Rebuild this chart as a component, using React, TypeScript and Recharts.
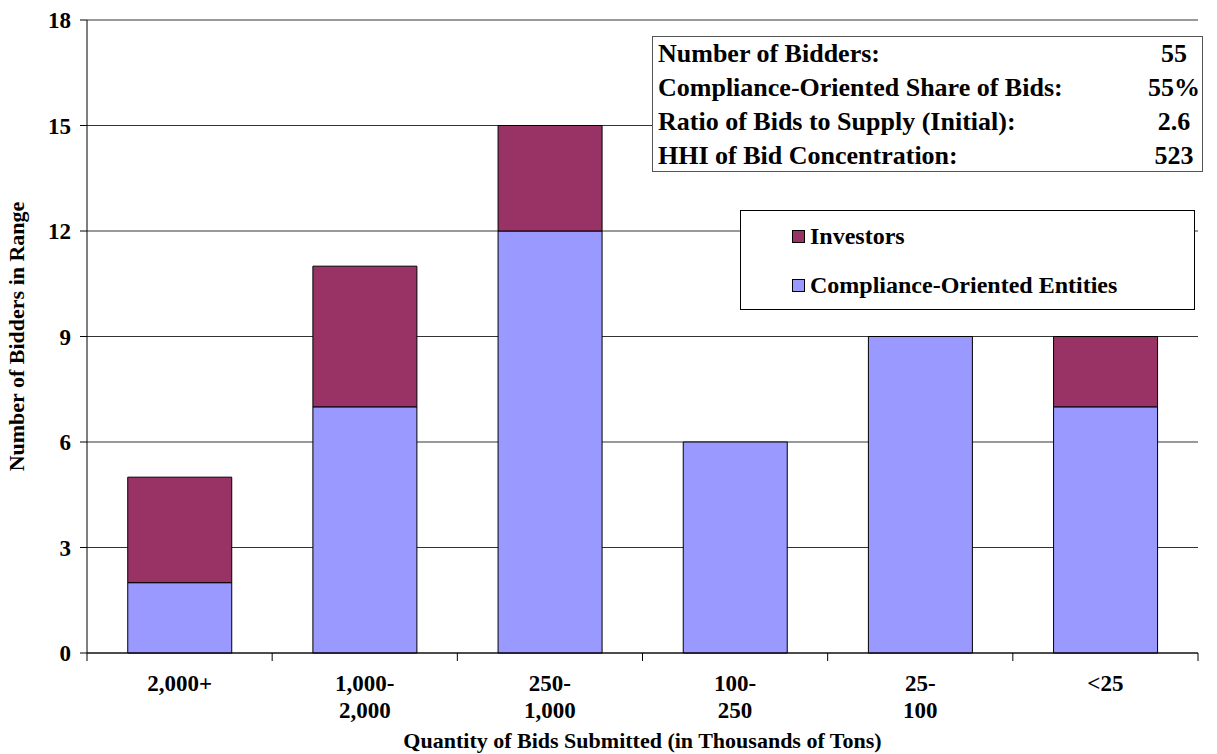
import React from "react"
import {
  BarChart,
  Bar,
  XAxis,
  YAxis,
  CartesianGrid,
  Legend,
} from "recharts"

const categories = ["2,000+", "1,000-\n2,000", "250-\n1,000", "100-\n250", "25-\n100", "<25"]
const complianceBidders = [2, 7, 12, 6, 9, 7]
const investorBidders = [3, 4, 3, 0, 0, 2]
const yTicks = [0, 3, 6, 9, 12, 15, 18]

const summaryRows = [
  ["Number of Bidders:", "55"],
  ["Compliance-Oriented Share of Bids:", "55%"],
  ["Ratio of Bids to Supply (Initial):", "2.6"],
  ["HHI of Bid Concentration:", "523"],
]

const W = 1217
const H = 754
const PLOT_LEFT = 87
const PLOT_RIGHT = 1198
const BAND = (PLOT_RIGHT - PLOT_LEFT) / categories.length
const FONT = "Liberation Serif"
const COMP = "#9999FF"
const INV = "#993366"

const data = categories.map((c, i) => ({
  range: c,
  compliance: complianceBidders[i],
  investors: investorBidders[i],
}))

const textStyle = { fontFamily: FONT, fontWeight: "bold" as const, fill: "#000" }

function XTick(props: any) {
  const { x, y, payload, index } = props
  const lines = String(payload.value).split("\n")
  const left = x - BAND / 2
  return (
    <g>
      <line x1={left} y1={y - 8} x2={left} y2={y} stroke="#000" />
      {index === categories.length - 1 && (
        <line x1={left + BAND} y1={y - 8} x2={left + BAND} y2={y} stroke="#000" />
      )}
      <text x={x} y={y + 30} textAnchor="middle" style={{ ...textStyle, fontSize: 23 }}>
        {lines.map((l, i) => (
          <tspan key={i} x={x} dy={i === 0 ? 0 : 27}>
            {l}
          </tspan>
        ))}
      </text>
    </g>
  )
}

function YTick(props: any) {
  const { y, payload } = props
  return (
    <g>
      <line x1={PLOT_LEFT - 7} y1={y} x2={PLOT_LEFT} y2={y} stroke="#000" />
      <text x={71} y={y + 8} textAnchor="end" style={{ ...textStyle, fontSize: 23 }}>
        {payload.value}
      </text>
    </g>
  )
}

function LegendBox() {
  const items = [
    { label: "Investors", color: INV },
    { label: "Compliance-Oriented Entities", color: COMP },
  ]
  return (
    <div
      style={{
        position: "absolute",
        left: 740,
        top: 210,
        width: 455,
        height: 100,
        border: "1px solid #000",
        background: "#fff",
        boxSizing: "border-box",
        fontFamily: FONT,
        fontWeight: "bold",
        fontSize: 24,
      }}
    >
      {items.map((it, i) => (
        <div
          key={it.label}
          style={{
            position: "absolute",
            left: 51,
            top: 9 + i * 49,
            display: "flex",
            alignItems: "center",
            whiteSpace: "nowrap",
            lineHeight: "32px",
          }}
        >
          <span
            style={{
              display: "inline-block",
              width: 11,
              height: 11,
              background: it.color,
              border: "1px solid #000",
              marginRight: 5,
            }}
          />
          {it.label}
        </div>
      ))}
    </div>
  )
}

export default function App() {
  return (
    <div style={{ position: "absolute", left: 0, top: 0, width: W, height: H, background: "#fff" }}>
      <BarChart
        width={W}
        height={H}
        data={data}
        margin={{ top: 20, right: W - PLOT_RIGHT, left: 0, bottom: 0 }}
        barCategoryGap="22%"
      >
        <CartesianGrid vertical={false} stroke="#000" strokeOpacity={0.8} />
        <XAxis
          dataKey="range"
          height={101}
          axisLine={{ stroke: "#000" }}
          tickLine={false}
          interval={0}
          tick={<XTick />}
          label={{
            value: "Quantity of Bids Submitted (in Thousands of Tons)",
            position: "insideBottom",
            offset: 6,
            style: { ...textStyle, fontSize: 22 },
          }}
        />
        <YAxis
          width={PLOT_LEFT}
          domain={[0, 18]}
          ticks={yTicks}
          interval={0}
          axisLine={{ stroke: "#000" }}
          tickLine={false}
          tick={<YTick />}
          label={{
            value: "Number of Bidders in Range",
            angle: -90,
            position: "insideLeft",
            offset: 16,
            style: { ...textStyle, textAnchor: "middle", fontSize: 22 },
          }}
        />
        <YAxis
          yAxisId="right"
          orientation="right"
          width={0}
          domain={[0, 18]}
          tick={false}
          tickLine={false}
          axisLine={{ stroke: "#000" }}
        />
        <Legend content={() => null} />
        <Bar
          dataKey="compliance"
          name="Compliance-Oriented Entities"
          stackId="a"
          fill={COMP}
          stroke="#000"
          strokeWidth={1}
          isAnimationActive={false}
        />
        <Bar
          dataKey="investors"
          name="Investors"
          stackId="a"
          fill={INV}
          stroke="#000"
          strokeWidth={1}
          isAnimationActive={false}
        />
      </BarChart>
      <div
        style={{
          position: "absolute",
          left: 652,
          top: 36,
          width: 551,
          height: 136,
          border: "1px solid #555",
          background: "#fff",
          boxSizing: "border-box",
          fontFamily: FONT,
          fontWeight: "bold",
          fontSize: 26,
          padding: "0 0 0 5px",
        }}
      >
        {summaryRows.map(([k, v]) => (
          <div
            key={k}
            style={{ display: "flex", justifyContent: "space-between", height: 34, lineHeight: "33px" }}
          >
            <span>{k}</span>
            <span style={{ width: 56, textAlign: "center" }}>{v}</span>
          </div>
        ))}
      </div>
      <LegendBox />
    </div>
  )
}
